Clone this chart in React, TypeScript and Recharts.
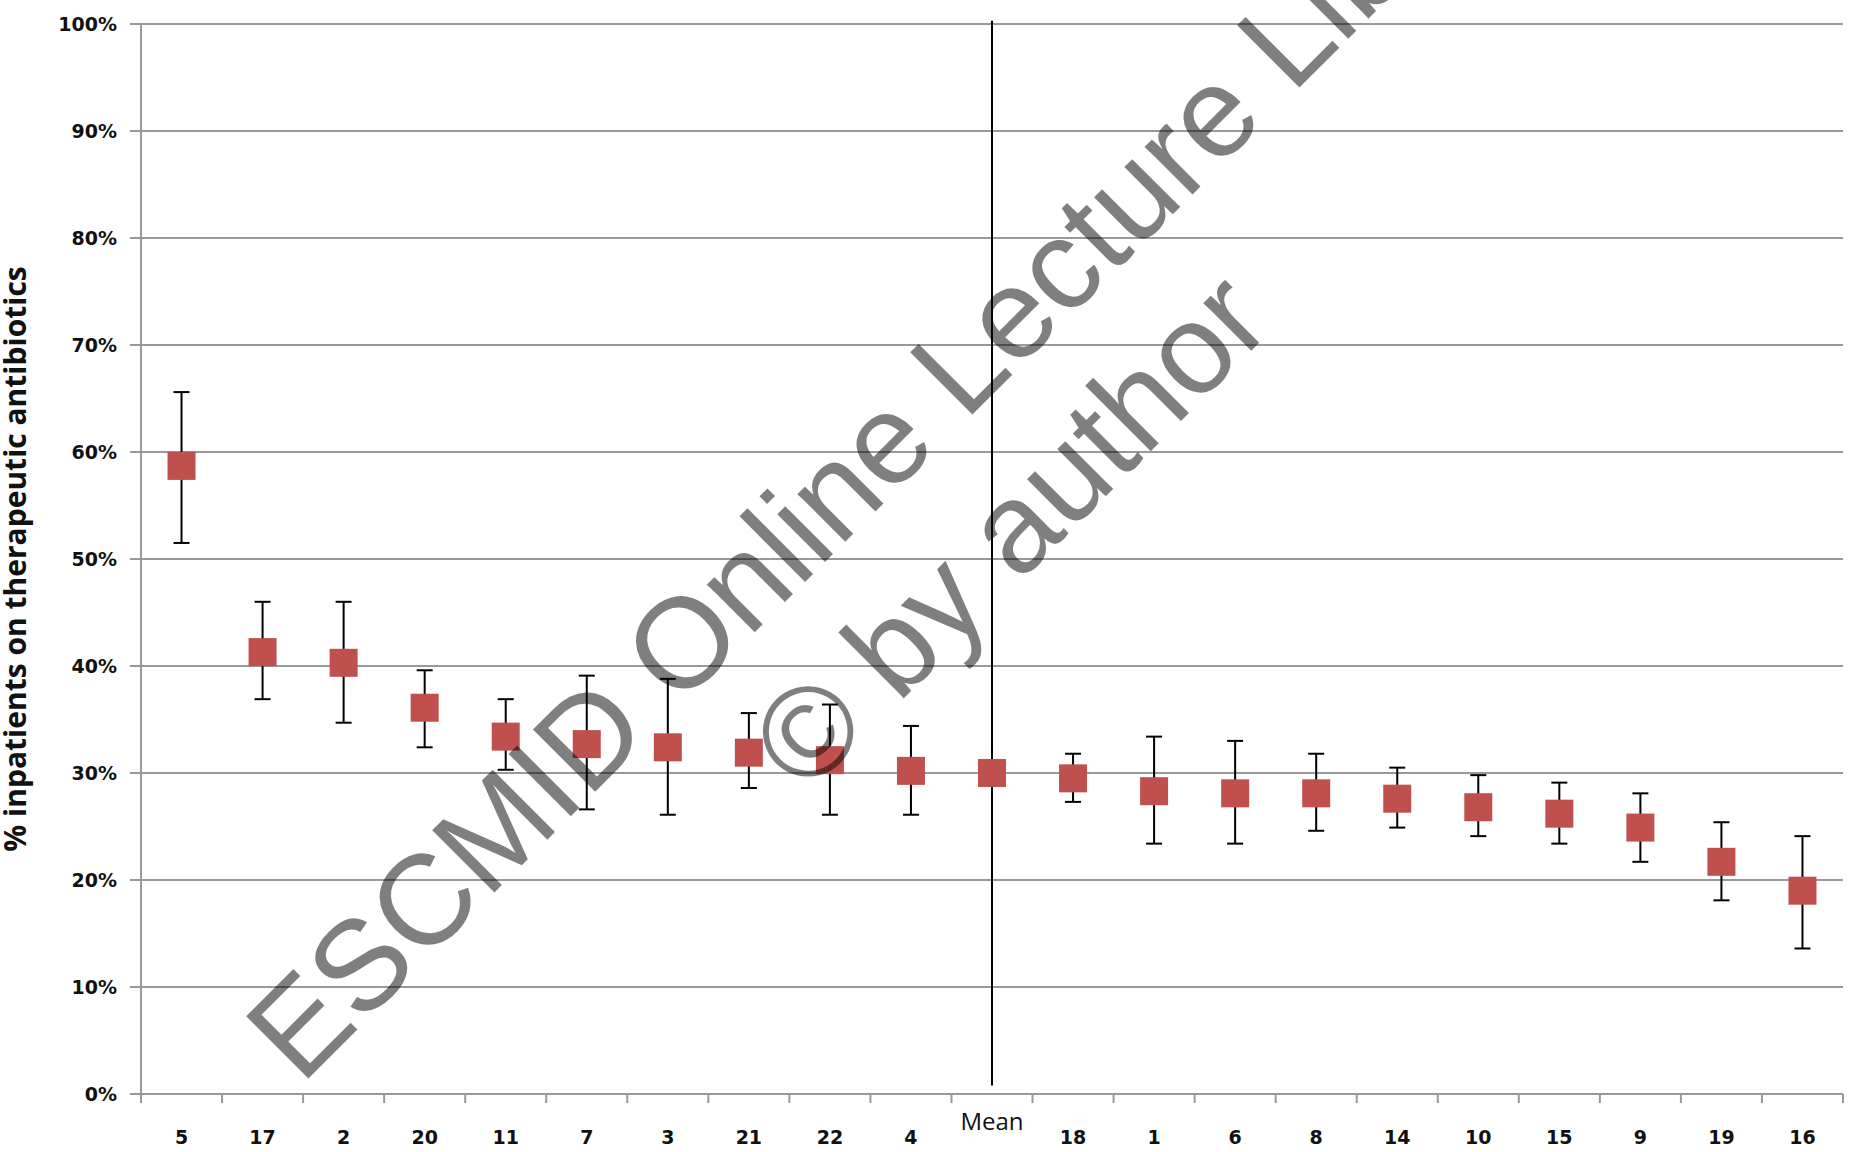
import React from "react";
import {
  CartesianGrid,
  ComposedChart,
  ErrorBar,
  Line,
  ReferenceLine,
  XAxis,
  YAxis,
} from "recharts";

const sites = ["5", "17", "2", "20", "11", "7", "3", "21", "22", "4", "Mean", "18", "1", "6", "8", "14", "10", "15", "9", "19", "16"];
const rates = [58.7, 41.3, 40.3, 36.1, 33.4, 32.7, 32.4, 31.9, 31.2, 30.2, 30.0, 29.5, 28.3, 28.1, 28.1, 27.6, 26.8, 26.2, 24.9, 21.7, 19.0];
const lowerCI = [51.5, 36.9, 34.7, 32.4, 30.3, 26.6, 26.1, 28.6, 26.1, 26.1, null, 27.3, 23.4, 23.4, 24.6, 24.9, 24.1, 23.4, 21.7, 18.1, 13.6];
const upperCI = [65.6, 46.0, 46.0, 39.6, 36.9, 39.1, 38.8, 35.6, 36.4, 34.4, null, 31.8, 33.4, 33.0, 31.8, 30.5, 29.8, 29.1, 28.1, 25.4, 24.1];
const yTicks = [0, 10, 20, 30, 40, 50, 60, 70, 80, 90, 100];

const W = 1864;
const H = 1152;
const LEFT = 141;
const RIGHT = 21;
const BAND = (W - LEFT - RIGHT) / sites.length;
const GRID = "#999999";
const RED = "#C0504D";

const data = sites.map((site, i) => ({
  site,
  rate: rates[i],
  err: lowerCI[i] == null ? null : [rates[i] - (lowerCI[i] as number), (upperCI[i] as number) - rates[i]],
}));

function SquareDot(props: any) {
  const { cx, cy, index } = props;
  if (cx == null || cy == null) return <g key={`d${index}`} />;
  return <rect key={`d${index}`} x={cx - 14} y={cy - 14} width={28} height={28} fill={RED} />;
}

function SiteTick(props: any) {
  const { x, y, payload, index } = props;
  const isMean = payload.value === "Mean";
  return (
    <g>
      <line x1={x - BAND / 2} x2={x - BAND / 2} y1={y} y2={y + 9} stroke={GRID} strokeWidth={2} />
      {index === sites.length - 1 && (
        <line x1={x + BAND / 2} x2={x + BAND / 2} y1={y} y2={y + 9} stroke={GRID} strokeWidth={2} />
      )}
      <text
        x={x}
        y={y + (isMean ? 36 : 50)}
        textAnchor="middle"
        fill="#111"
        fontFamily={isMean ? "Open Sans" : "DejaVu Sans"}
        fontWeight={isMean ? 400 : 700}
        fontSize={isMean ? 24 : 19}
      >
        {payload.value}
      </text>
    </g>
  );
}

export default function App() {
  return (
    <div style={{ position: "absolute", left: 0, top: 0, width: W, height: H, background: "#fff" }}>
      <ComposedChart width={W} height={H} data={data} margin={{ top: 24, right: RIGHT, left: 0, bottom: 0 }}>
        <CartesianGrid vertical={false} stroke={GRID} strokeWidth={2} />
        <XAxis
          dataKey="site"
          scale="band"
          interval={0}
          height={58}
          tickLine={false}
          tickSize={0}
          tickMargin={0}
          axisLine={{ stroke: GRID, strokeWidth: 2 }}
          tick={<SiteTick />}
        />
        <YAxis
          type="number"
          width={LEFT}
          domain={[0, 100]}
          ticks={yTicks}
          interval={0}
          tickFormatter={(v: number) => `${v}%`}
          tickSize={11}
          tickMargin={13}
          axisLine={{ stroke: GRID, strokeWidth: 2 }}
          tickLine={{ stroke: GRID, strokeWidth: 2 }}
          tick={{ fill: "#111", fontSize: 19, fontWeight: 700, fontFamily: "DejaVu Sans" }}
        />
        <ReferenceLine
          segment={[{ x: "Mean", y: 100.3 }, { x: "Mean", y: 0.8 }]}
          stroke="#000"
          strokeWidth={2}
          ifOverflow="visible"
        />
        <Line
          dataKey="rate"
          stroke="none"
          dot={SquareDot}
          activeDot={false}
          isAnimationActive={false}
        >
          <ErrorBar dataKey="err" direction="y" width={8} stroke="#000" strokeWidth={2} />
        </Line>
      </ComposedChart>
      <svg
        width={W}
        height={H}
        style={{ position: "absolute", left: 0, top: 0, pointerEvents: "none" }}
      >
        <text
          transform="translate(26,559) rotate(-90)"
          textAnchor="middle"
          fontFamily="Open Sans"
          fontWeight={700}
          fontSize={30}
          fill="#111"
        >
          % inpatients on therapeutic antibiotics
        </text>
        <g fill="rgba(0,0,0,0.5)" fontFamily="Liberation Sans" fontSize={128}>
          <text transform="translate(301,1086) rotate(-45)">ESCMID Online Lecture Library</text>
          <text transform="translate(806,796) rotate(-45)">© by author</text>
        </g>
      </svg>
    </div>
  );
}
